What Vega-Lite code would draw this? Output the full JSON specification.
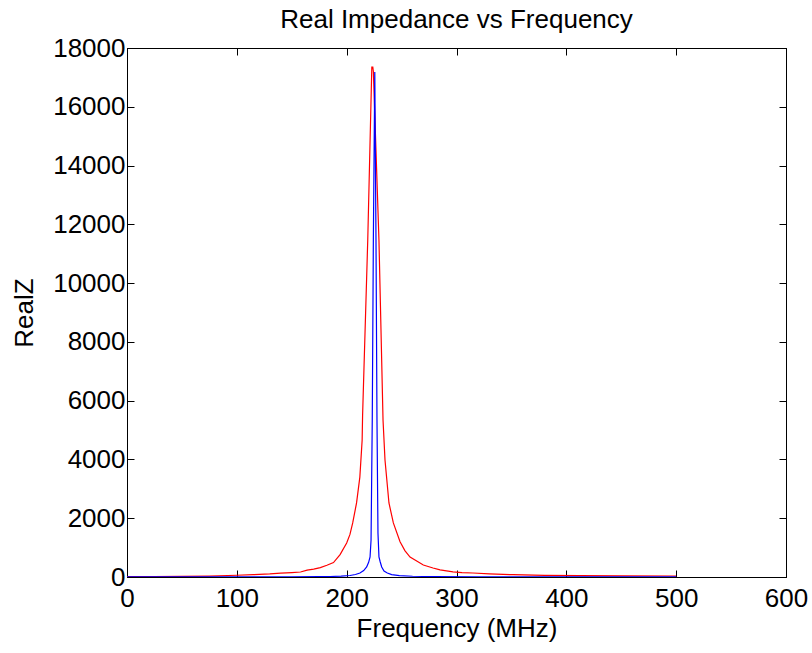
{
  "$schema": "https://vega.github.io/schema/vega-lite/v6.json",
  "width": 659,
  "height": 529,
  "autosize": {"type": "none"},
  "padding": {"left": 127, "top": 48, "right": 26, "bottom": 76},
  "background": "white",
  "config": {
    "font": "Liberation Sans",
    "view": {"stroke": "black", "strokeWidth": 1},
    "axis": {
      "grid": false,
      "domainColor": "black",
      "domainWidth": 1,
      "tickColor": "black",
      "tickWidth": 1,
      "tickSize": -7,
      "labelColor": "black",
      "labelFont": "Liberation Sans",
      "labelFontSize": 26,
      "titleFont": "Liberation Sans",
      "titleFontSize": 26,
      "titleFontWeight": "normal",
      "titleColor": "black"
    }
  },
  "title": {
    "text": "Real Impedance vs Frequency",
    "font": "Liberation Sans",
    "fontSize": 26,
    "fontWeight": "normal",
    "color": "black",
    "offset": 2
  },
  "datasets": {
    "red": [
      {"f": 0, "v": 12}, {"f": 25, "v": 15}, {"f": 50, "v": 20}, {"f": 75, "v": 30},
      {"f": 100, "v": 60}, {"f": 115, "v": 80}, {"f": 130, "v": 105}, {"f": 140, "v": 130},
      {"f": 150, "v": 150}, {"f": 158, "v": 170}, {"f": 164, "v": 235}, {"f": 170, "v": 270},
      {"f": 176, "v": 320}, {"f": 182, "v": 400}, {"f": 188, "v": 490}, {"f": 194, "v": 760},
      {"f": 200, "v": 1157}, {"f": 203, "v": 1450}, {"f": 205.5, "v": 1840}, {"f": 209, "v": 2520},
      {"f": 212, "v": 3400}, {"f": 214.1, "v": 4660}, {"f": 214.5, "v": 5500}, {"f": 219.2, "v": 11470},
      {"f": 222.9, "v": 17354}, {"f": 223.8, "v": 17354}, {"f": 224.3, "v": 17200}, {"f": 229.4, "v": 11467},
      {"f": 233.1, "v": 5340}, {"f": 234.9, "v": 3980}, {"f": 238.5, "v": 2520}, {"f": 242.5, "v": 1840},
      {"f": 248.6, "v": 1200}, {"f": 253, "v": 900}, {"f": 257.7, "v": 680}, {"f": 263, "v": 560},
      {"f": 269.8, "v": 408}, {"f": 278.6, "v": 306}, {"f": 285, "v": 240}, {"f": 296.8, "v": 175},
      {"f": 305, "v": 150}, {"f": 315, "v": 136}, {"f": 330, "v": 105}, {"f": 351.5, "v": 78},
      {"f": 380, "v": 58}, {"f": 412.5, "v": 44}, {"f": 450, "v": 38}, {"f": 497, "v": 34},
      {"f": 500, "v": 33}
    ],
    "blue": [
      {"f": 0, "v": 2}, {"f": 100, "v": 4}, {"f": 150, "v": 7}, {"f": 175, "v": 12},
      {"f": 185, "v": 17}, {"f": 195, "v": 30}, {"f": 203, "v": 51}, {"f": 208, "v": 85},
      {"f": 212.1, "v": 136}, {"f": 215.5, "v": 220}, {"f": 218.2, "v": 340}, {"f": 220, "v": 500},
      {"f": 221.3, "v": 680}, {"f": 222.2, "v": 1260}, {"f": 223.3, "v": 5342}, {"f": 224.3, "v": 11467},
      {"f": 225.6, "v": 17183}, {"f": 226.7, "v": 11467}, {"f": 227.6, "v": 5342}, {"f": 228.5, "v": 1500},
      {"f": 229.4, "v": 680}, {"f": 230.5, "v": 520}, {"f": 231.9, "v": 340}, {"f": 234, "v": 200},
      {"f": 237, "v": 136}, {"f": 241, "v": 80}, {"f": 248, "v": 45}, {"f": 260, "v": 25},
      {"f": 280, "v": 15}, {"f": 320, "v": 9}, {"f": 400, "v": 5}, {"f": 500, "v": 3}
    ]
  },
  "layer": [
    {
      "data": {"name": "red"},
      "mark": {"type": "line", "color": "#ff0000", "strokeWidth": 1.2, "clip": true},
      "encoding": {
        "x": {"field": "f", "type": "quantitative", "scale": {"domain": [0, 600], "nice": false},
              "axis": {"orient": "bottom", "values": [0, 100, 200, 300, 400, 500, 600], "title": "Frequency (MHz)", "labelPadding": 15, "titlePadding": 4, "labelFlush": false}},
        "y": {"field": "v", "type": "quantitative", "scale": {"domain": [0, 18000], "nice": false},
              "axis": {"orient": "left", "values": [0, 2000, 4000, 6000, 8000, 10000, 12000, 14000, 16000, 18000], "title": "RealZ", "labelPadding": 9, "titlePadding": 15, "format": "d", "labelFlush": false}}
      }
    },
    {
      "data": {"name": "blue"},
      "mark": {"type": "line", "color": "#0000ff", "strokeWidth": 1.2, "clip": true},
      "encoding": {
        "x": {"field": "f", "type": "quantitative", "axis": null},
        "y": {"field": "v", "type": "quantitative", "axis": null}
      }
    },
    {
      "data": {"name": "blue"},
      "mark": {"type": "line", "opacity": 0},
      "encoding": {
        "x": {"field": "f", "type": "quantitative",
              "axis": {"orient": "top", "values": [0, 100, 200, 300, 400, 500, 600], "labels": false, "title": null}},
        "y": {"field": "v", "type": "quantitative",
              "axis": {"orient": "right", "values": [0, 2000, 4000, 6000, 8000, 10000, 12000, 14000, 16000, 18000], "labels": false, "title": null}}
      }
    }
  ],
  "resolve": {"axis": {"x": "independent", "y": "independent"}}
}
